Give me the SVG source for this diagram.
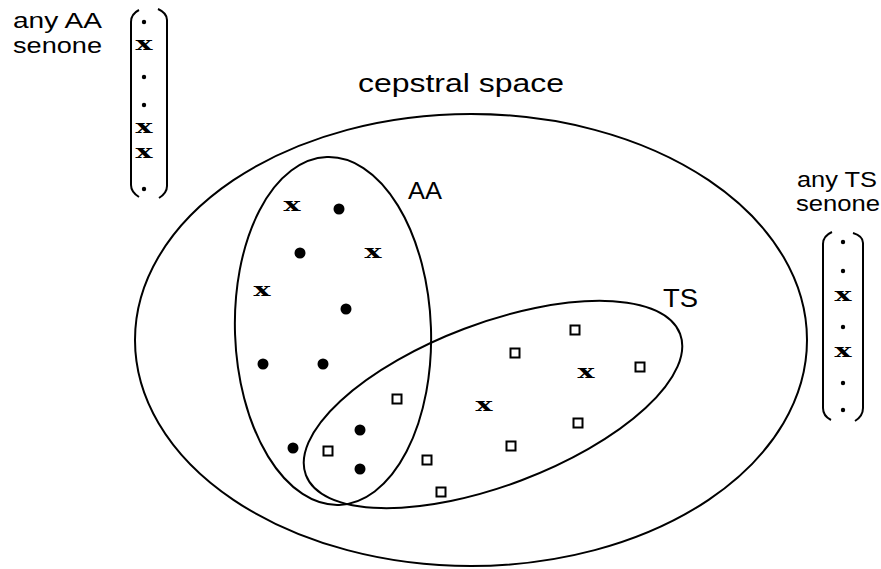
<svg xmlns="http://www.w3.org/2000/svg" width="881" height="569" viewBox="0 0 881 569">
<style>
.ln{fill:none;stroke:#000;stroke-width:2}
.br{fill:none;stroke:#000;stroke-width:2}
.dot{fill:#000}
.sd{fill:#000}
.sq{fill:#fff;stroke:#000;stroke-width:2}
.lbl{font-family:"Liberation Sans",Arial,Helvetica,sans-serif;fill:#000}
.xm{font-family:"DejaVu Serif","Liberation Serif",serif;font-weight:bold;font-size:19px;text-anchor:middle;fill:#000}
</style>
<rect width="881" height="569" fill="#fff"/>
<g id="space">
<ellipse class="ln" cx="471" cy="340" rx="336" ry="226"/>
<text class="lbl" x="358" y="92" font-size="25" textLength="206" lengthAdjust="spacingAndGlyphs">cepstral space</text>
</g>
<g id="AA">
<ellipse class="ln" transform="rotate(-2 333 331)" cx="333" cy="331" rx="98" ry="174"/>
<text class="lbl" x="408" y="199" font-size="24" textLength="34" lengthAdjust="spacingAndGlyphs">AA</text>
<text class="xm" x="292" y="211" textLength="17" lengthAdjust="spacingAndGlyphs">x</text>
<text class="xm" x="373" y="258" textLength="17" lengthAdjust="spacingAndGlyphs">x</text>
<text class="xm" x="262" y="296" textLength="17" lengthAdjust="spacingAndGlyphs">x</text>
<circle class="dot" cx="339" cy="209" r="5.5"/>
<circle class="dot" cx="300" cy="253" r="5.5"/>
<circle class="dot" cx="346" cy="309" r="5.5"/>
<circle class="dot" cx="263" cy="364" r="5.5"/>
<circle class="dot" cx="323" cy="364" r="5.5"/>
<circle class="dot" cx="360" cy="430" r="5.5"/>
<circle class="dot" cx="293" cy="448" r="5.5"/>
<circle class="dot" cx="360" cy="469" r="5.5"/>
</g>
<g id="TS">
<ellipse class="ln" transform="rotate(-20.7 493 404.5)" cx="493" cy="404.5" rx="200" ry="81"/>
<text class="lbl" x="663" y="307" font-size="25" textLength="35" lengthAdjust="spacingAndGlyphs">TS</text>
<text class="xm" x="484" y="411" textLength="17" lengthAdjust="spacingAndGlyphs">x</text>
<text class="xm" x="586" y="378" textLength="17" lengthAdjust="spacingAndGlyphs">x</text>
<rect class="sq" x="392.5" y="394.5" width="9" height="9"/>
<rect class="sq" x="323.5" y="446.5" width="9" height="9"/>
<rect class="sq" x="422.5" y="455.5" width="9" height="9"/>
<rect class="sq" x="436.5" y="487.5" width="9" height="9"/>
<rect class="sq" x="510.5" y="348.5" width="9" height="9"/>
<rect class="sq" x="506.5" y="441.5" width="9" height="9"/>
<rect class="sq" x="570.5" y="325.5" width="9" height="9"/>
<rect class="sq" x="635.5" y="362.5" width="9" height="9"/>
<rect class="sq" x="573.5" y="418.5" width="9" height="9"/>
</g>
<g id="aa-senone">
<text class="lbl" x="13" y="28" font-size="22" textLength="89" lengthAdjust="spacingAndGlyphs">any AA</text>
<text class="lbl" x="13" y="53" font-size="22" textLength="89" lengthAdjust="spacingAndGlyphs">senone</text>
<path class="br" d="M139,10 Q131,14 131,22 L131,185 Q131,192 139,197"/>
<path class="br" d="M158,9 Q167,13 167,20 L167,186 Q167,193 159,198"/>
<circle class="sd" cx="144" cy="22" r="2.2"/>
<text class="xm" x="144" y="50" textLength="17" lengthAdjust="spacingAndGlyphs">x</text>
<circle class="sd" cx="144" cy="77" r="2.2"/>
<circle class="sd" cx="144" cy="105" r="2.2"/>
<text class="xm" x="144" y="133" textLength="17" lengthAdjust="spacingAndGlyphs">x</text>
<text class="xm" x="144" y="158" textLength="17" lengthAdjust="spacingAndGlyphs">x</text>
<circle class="sd" cx="144" cy="189" r="2.2"/>
</g>
<g id="ts-senone">
<text class="lbl" x="877" y="187" font-size="22" text-anchor="end" textLength="80" lengthAdjust="spacingAndGlyphs">any TS</text>
<text class="lbl" x="880" y="211" font-size="22" text-anchor="end" textLength="84" lengthAdjust="spacingAndGlyphs">senone</text>
<path class="br" d="M832,232 Q823,236 823,244 L823,408 Q823,416 831,420"/>
<path class="br" d="M853,233 Q863,236 863,243 L863,408 Q863,416 855,421"/>
<circle class="sd" cx="843" cy="242" r="2.2"/>
<circle class="sd" cx="843" cy="271" r="2.2"/>
<text class="xm" x="843" y="301" textLength="17" lengthAdjust="spacingAndGlyphs">x</text>
<circle class="sd" cx="843" cy="327" r="2.2"/>
<text class="xm" x="843" y="357" textLength="17" lengthAdjust="spacingAndGlyphs">x</text>
<circle class="sd" cx="843" cy="383" r="2.2"/>
<circle class="sd" cx="843" cy="410" r="2.2"/>
</g>
</svg>
